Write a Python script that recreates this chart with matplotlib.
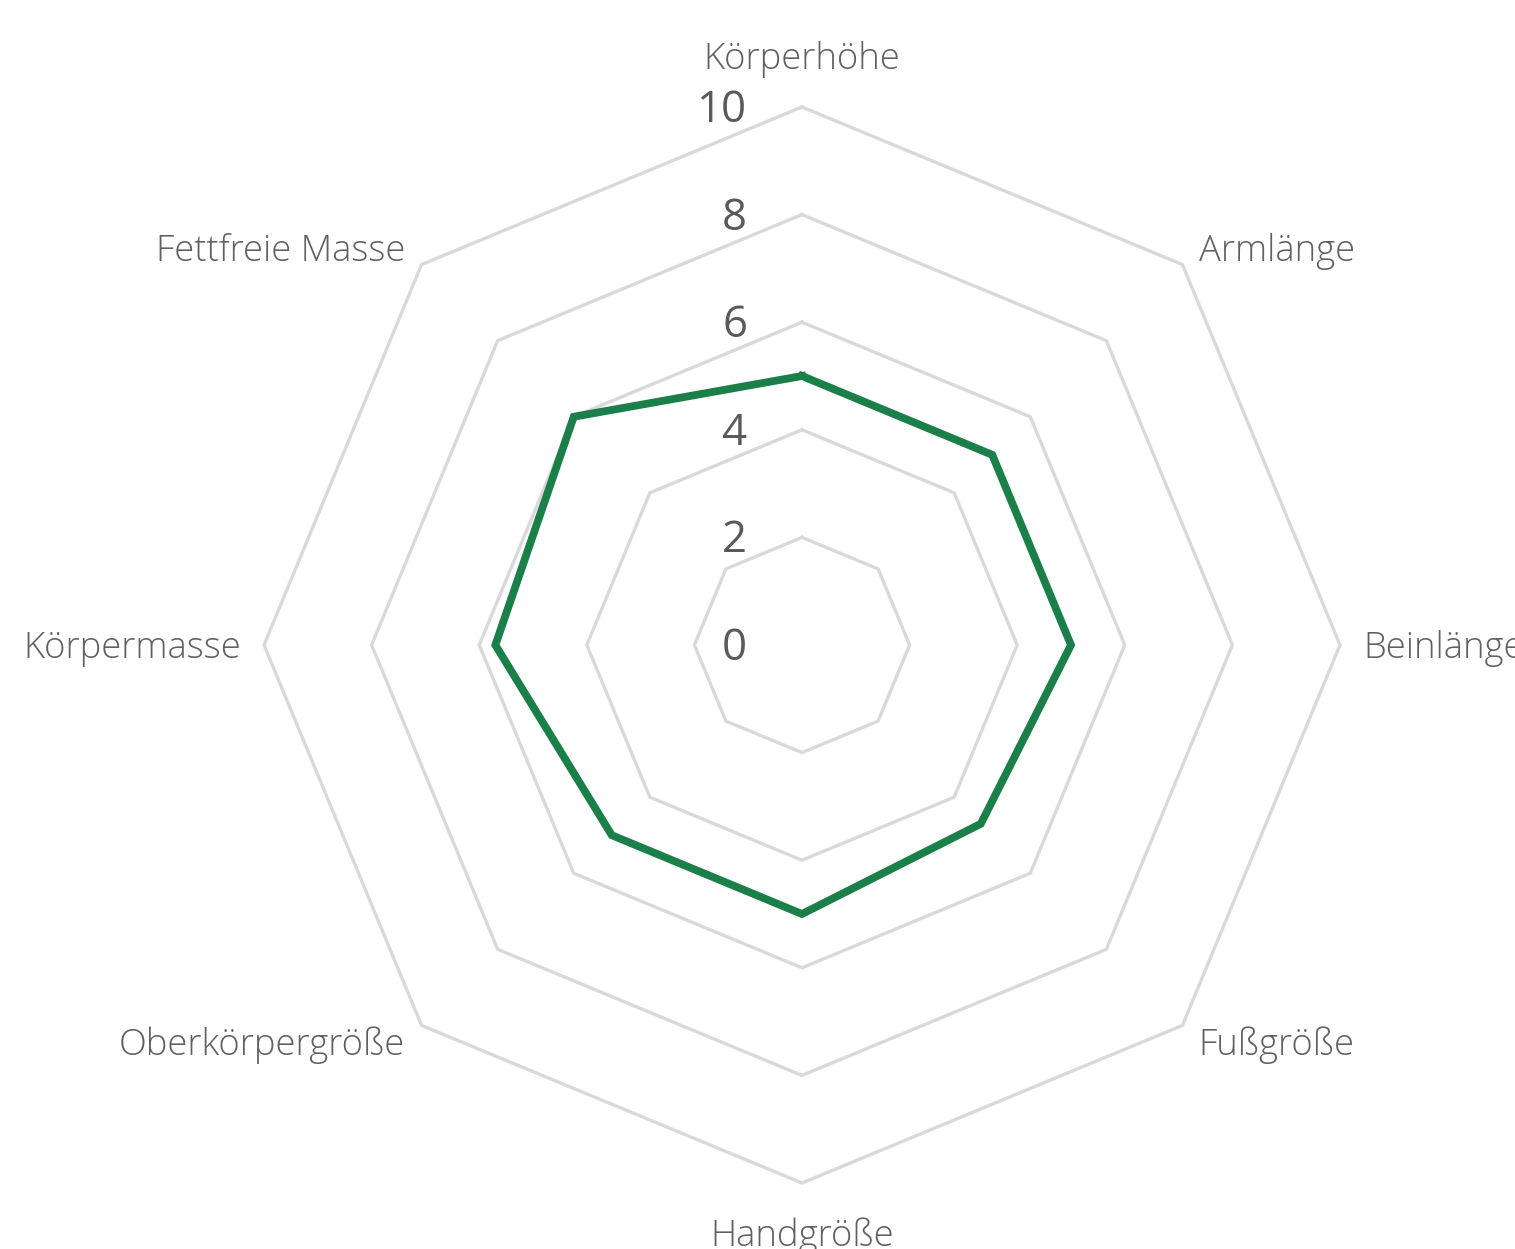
import numpy as np
import matplotlib
matplotlib.use("Agg")
import matplotlib.pyplot as plt

categories = ["Körperhöhe", "Armlänge", "Beinlänge", "Fußgröße",
              "Handgröße", "Oberkörpergröße", "Körpermasse", "Fettfreie Masse"]
values = [5.0, 5.0, 5.0, 4.7, 5.0, 5.0, 5.7, 6.0]
ring_values = [2, 4, 6, 8, 10]
tick_labels = ["0", "2", "4", "6", "8", "10"]
tick_positions = [0, 2, 4, 6, 8, 10]

W, H, DPI = 1515, 1249, 100
cx_px, cy_px = 802, 645
unit_px = 53.8

fig = plt.figure(figsize=(W / DPI, H / DPI), dpi=DPI)
ax = fig.add_axes([0, 0, 1, 1])
ax.set_xlim(-cx_px / unit_px, (W - cx_px) / unit_px)
ax.set_ylim(-(H - cy_px) / unit_px, cy_px / unit_px)
ax.axis("off")

n = len(categories)
angles = np.arange(n) * 2 * np.pi / n  # clockwise from top


def to_xy(r, a):
    return r * np.sin(a), r * np.cos(a)


grid_color = "#d9d9d9"
for rv in ring_values:
    xs, ys = to_xy(np.full(n + 1, rv), np.append(angles, angles[0]))
    ax.plot(xs, ys, color=grid_color, lw=2.4, solid_joinstyle="round", zorder=1)

vals = np.array(values + values[:1])
xs, ys = to_xy(vals, np.append(angles, angles[0]))
ax.plot(xs, ys, color="#1a7f48", lw=5.6, solid_joinstyle="miter", zorder=3)

font = "Open Sans"
dy = -0.07  # small vertical nudge for text centring
for t, lab in zip(tick_positions, tick_labels):
    ax.text(-1.02, t + dy, lab, ha="right", va="center", fontsize=31.5,
            color="#5a5a5a", family=font, zorder=4)

for cat, a in zip(categories, angles):
    s, c = np.sin(a), np.cos(a)
    if abs(s) < 1e-6:
        r = 10.95 if c > 0 else 10.92
        ha = "center"
    else:
        r = 10.43
        ha = "left" if s > 0 else "right"
    x, y = to_xy(r, a)
    ax.text(x, y + dy, cat, ha=ha, va="center", fontsize=26.2, color="#606060",
            family=font, fontweight="light")

fig.savefig("out.png", dpi=DPI, facecolor="white")
